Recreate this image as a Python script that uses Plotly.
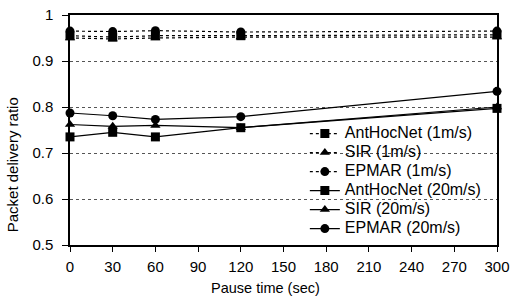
import plotly.graph_objects as go

pause_time = [0, 30, 60, 120, 300]
x_ticks = [0, 30, 60, 90, 120, 150, 180, 210, 240, 270, 300]

anthocnet_1 = [0.955, 0.952, 0.955, 0.955, 0.957]
sir_1 = [0.950, 0.948, 0.950, 0.952, 0.952]
epmar_1 = [0.965, 0.964, 0.966, 0.963, 0.965]
anthocnet_20 = [0.735, 0.745, 0.735, 0.755, 0.797]
sir_20 = [0.762, 0.758, 0.760, 0.755, 0.800]
epmar_20 = [0.787, 0.781, 0.773, 0.779, 0.834]

series = [
    ("AntHocNet (1m/s)", anthocnet_1, "square", "dot"),
    ("SIR (1m/s)", sir_1, "triangle-up", "dot"),
    ("EPMAR (1m/s)", epmar_1, "circle", "dot"),
    ("AntHocNet (20m/s)", anthocnet_20, "square", "solid"),
    ("SIR (20m/s)", sir_20, "triangle-up", "solid"),
    ("EPMAR (20m/s)", epmar_20, "circle", "solid"),
]

FONT = "Liberation Sans, Arial, sans-serif"
fig = go.Figure()
for name, vals, sym, dash in series:
    fig.add_trace(go.Scatter(
        x=pause_time, y=vals, mode="lines+markers",
        name="<span style='font-size:16px'>" + name + "</span>",
        line=dict(color="black", width=1.2, dash=dash),
        marker=dict(symbol=sym, size=9, color="black"),
        cliponaxis=False,
    ))

fig.update_layout(
    width=510, height=301,
    margin=dict(l=70, r=13, t=15, b=56, autoexpand=False),
    paper_bgcolor="white", plot_bgcolor="white",
    font=dict(family=FONT, color="black", size=15),
    showlegend=True,
    legend=dict(
        x=0.55, xanchor="left", y=0.278, yanchor="middle",
        bgcolor="rgba(0,0,0,0)", borderwidth=0,
        font=dict(size=12, family=FONT, color="black"),
        tracegroupgap=0,
    ),
    xaxis=dict(
        range=[0, 300], tickvals=x_ticks, showgrid=False, zeroline=False,
        showline=True, linecolor="black", linewidth=1.5, mirror=True,
        ticks="outside", ticklen=5, tickcolor="black", automargin=False,
        ticklabelstandoff=2,
        tickfont=dict(size=15, family=FONT),
    ),
    yaxis=dict(
        range=[0.5, 1], dtick=0.1, showgrid=True, gridcolor="#555555",
        griddash="dot", gridwidth=1, zeroline=False,
        showline=True, linecolor="black", linewidth=1.5, mirror=True,
        ticks="outside", ticklen=6, tickcolor="black", automargin=False,
        ticklabelstandoff=6,
        tickfont=dict(size=15, family=FONT),
    ),
    annotations=[
        dict(text="Pause time (sec)", xref="paper", yref="paper",
             x=0.457, y=-0.185, xanchor="center", yanchor="middle",
             showarrow=False, font=dict(size=14.5, family=FONT)),
        dict(text="Packet delivery ratio", xref="paper", yref="paper",
             x=-0.134, y=0.35, xanchor="center", yanchor="middle",
             textangle=-90, showarrow=False, font=dict(size=15, family=FONT)),
    ],
)

fig.write_html(
    "out.html",
    config={"displayModeBar": False},
    post_script="document.body.style.margin='0';document.body.style.overflow='hidden';",
)
